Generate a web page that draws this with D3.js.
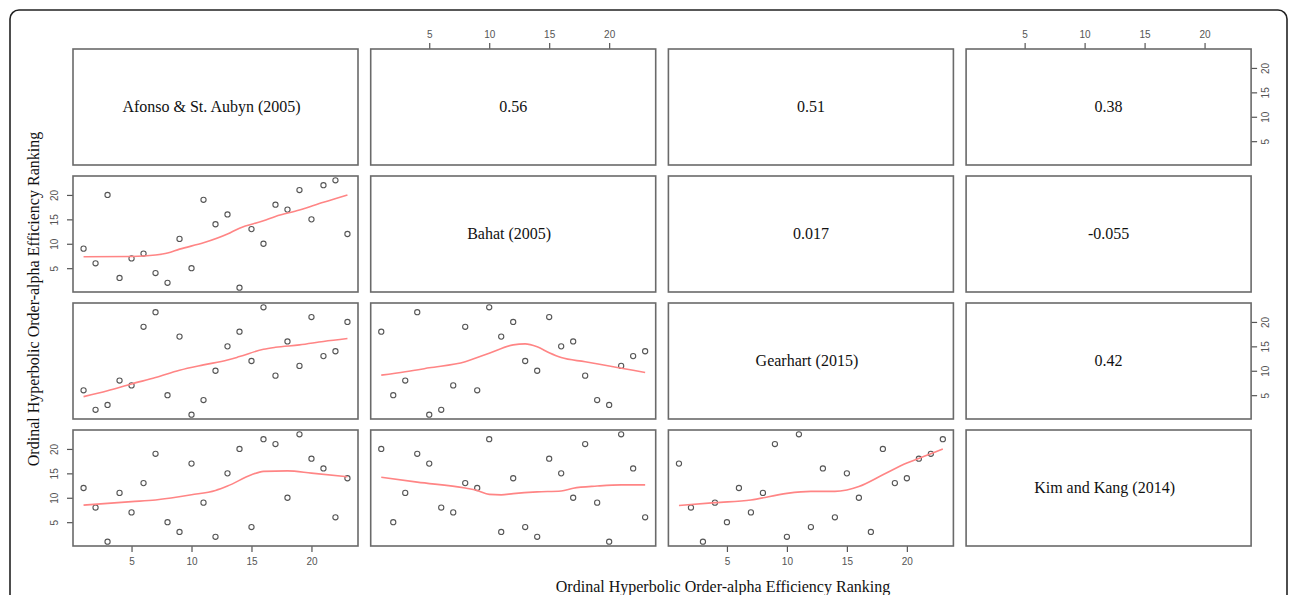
<!DOCTYPE html>
<html>
<head>
<meta charset="utf-8">
<script src="https://cdn.jsdelivr.net/npm/d3@7"></script>
<style>
  body { margin: 0; background: white; }
</style>
</head>
<body>
<div id="chart"></div>
<script>
// Rankings of the 23 observations under each method
const afonso   = [1, 2, 3, 4, 5, 6, 7, 8, 9, 10, 11, 12, 13, 14, 15, 16, 17, 18, 19, 20, 21, 22, 23];
const bahat    = [9, 6, 20, 3, 7, 8, 4, 2, 11, 5, 19, 14, 16, 1, 13, 10, 18, 17, 21, 15, 22, 23, 12];
const gearhart = [6, 2, 3, 8, 7, 19, 22, 5, 17, 1, 4, 10, 15, 18, 12, 23, 9, 16, 11, 21, 13, 14, 20];
const kim      = [12, 8, 1, 11, 7, 13, 19, 5, 3, 17, 9, 2, 15, 20, 4, 22, 21, 10, 23, 18, 16, 6, 14];

const names = ["Afonso & St. Aubyn (2005)", "Bahat (2005)", "Gearhart (2015)", "Kim and Kang (2014)"];
const columns = [afonso, bahat, gearhart, kim];

// correlations shown in the upper panels  [row, col, text]
const correlations = [
  [0, 1, "0.56"], [0, 2, "0.51"], [0, 3, "0.38"],
  [1, 2, "0.017"], [1, 3, "-0.055"],
  [2, 3, "0.42"]
];

// smoother lines  [x, y]
const smoothBahatAfonso = [[1, 7.35], [5, 7.4], [7, 7.7], [8, 8.1], [9, 8.9], [11, 10.2], [13, 12.0], [14, 13.2], [16, 14.7], [17, 15.6], [19, 16.9], [21, 18.5], [23, 20]];
const smoothGearhartAfonso = [[1, 4.7], [3, 5.9], [5, 7.3], [7, 8.6], [9, 10.1], [11, 11.2], [13, 12.2], [14, 12.9], [16, 14.4], [17, 14.8], [19, 15.3], [21, 16.0], [23, 16.6]];
const smoothGearhartBahat = [[1, 9.1], [3, 9.8], [5, 10.6], [8, 11.85], [10, 13.6], [12, 15.3], [13, 15.5], [14, 14.9], [15, 13.7], [16, 12.7], [18, 11.85], [20, 10.96], [22, 10.1], [23, 9.65]];
const smoothKimAfonso = [[1, 8.5], [5, 9.2], [7, 9.55], [10, 10.6], [12, 11.5], [13, 12.4], [15, 14.7], [16, 15.4], [18, 15.5], [20, 15.05], [23, 14.3]];
const smoothKimBahat = [[1, 14.2], [4, 13.2], [8, 12.0], [9, 11.5], [10, 10.7], [11, 10.6], [12, 10.85], [14, 11.2], [16, 11.4], [17, 11.95], [19, 12.4], [21, 12.65], [23, 12.65]];
const smoothKimGearhart = [[1, 8.4], [4, 9.0], [7, 9.55], [10, 10.9], [12, 11.3], [14, 11.3], [15, 11.6], [16, 12.3], [18, 14.7], [20, 17.1], [22, 19.0], [23, 20]];

const smoothers = [
  [1, 0, smoothBahatAfonso],
  [2, 0, smoothGearhartAfonso],
  [2, 1, smoothGearhartBahat],
  [3, 0, smoothKimAfonso],
  [3, 1, smoothKimBahat],
  [3, 2, smoothKimGearhart]
];

const tickValues = [5, 10, 15, 20];

const width = 1296;
const height = 595;

const panelW = 285;
const panelH = 116;
const left0 = 73;
const top0 = 49;
const stepX = 297.7;
const stepY = 127;

const svg = d3.select("#chart")
  .append("svg")
  .attr("width", width)
  .attr("height", height)
  .style("background-color", "white");

// outer frame
svg.append("rect")
  .attr("x", 10)
  .attr("y", 10)
  .attr("width", 1277)
  .attr("height", 620)
  .attr("rx", 9)
  .attr("fill", "none")
  .attr("stroke", "#222")
  .attr("stroke-width", 1.6);

const pad = 22 * 0.04;
const domain = [1 - pad, 23 + pad];

function panelX(j) { return left0 + j * stepX; }
function panelY(i) { return top0 + i * stepY; }

const lineColor = "#ff8585";
const boxColor = "#6a6a6a";

for (let i = 0; i < 4; i++) {
  for (let j = 0; j < 4; j++) {
    const px = panelX(j);
    const py = panelY(i);
    const x = d3.scaleLinear().domain(domain).range([0, panelW]);
    const y = d3.scaleLinear().domain(domain).range([panelH, 0]);

    const g = svg.append("g").attr("transform", `translate(${px},${py})`);

    // axes first so the box sits over the domain line
    if (i === 0 && (j === 1 || j === 3)) {
      g.append("g").attr("class", "axis").call(d3.axisTop(x).tickValues(tickValues).tickSize(6).tickPadding(5));
    }
    if (i === 3 && (j === 0 || j === 2)) {
      g.append("g").attr("class", "axis").attr("transform", `translate(0,${panelH})`)
        .call(d3.axisBottom(x).tickValues(tickValues).tickSize(6).tickPadding(6));
    }
    if (j === 0 && (i === 1 || i === 3)) {
      const ax = g.append("g").attr("class", "axis yaxis")
        .call(d3.axisLeft(y).tickValues(tickValues).tickSize(6).tickPadding(0));
      ax.selectAll(".tick text")
        .attr("x", null)
        .attr("text-anchor", "middle")
        .attr("dy", null)
        .attr("transform", "translate(-15,0) rotate(-90)");
    }
    if (j === 3 && (i === 0 || i === 2)) {
      const ax = g.append("g").attr("class", "axis yaxis").attr("transform", `translate(${panelW},0)`)
        .call(d3.axisRight(y).tickValues(tickValues).tickSize(6).tickPadding(0));
      ax.selectAll(".tick text")
        .attr("x", null)
        .attr("text-anchor", "middle")
        .attr("dy", null)
        .attr("transform", "translate(18,0) rotate(-90)");
    }

    // panel box
    g.append("rect")
      .attr("width", panelW)
      .attr("height", panelH)
      .attr("fill", "none")
      .attr("stroke", boxColor)
      .attr("stroke-width", 1.6);

    if (i === j) {
      g.append("text")
        .attr("x", panelW / 2 - 4)
        .attr("y", panelH / 2 + 5)
        .attr("text-anchor", "middle")
        .style("font-family", "Liberation Serif")
        .style("font-size", "16px")
        .attr("fill", "#111")
        .text(names[i]);
    } else if (i > j) {
      const pts = columns[j].map((v, k) => [v, columns[i][k]]);
      g.selectAll("circle")
        .data(pts)
        .enter().append("circle")
        .attr("cx", d => x(d[0]))
        .attr("cy", d => y(d[1]))
        .attr("r", 2.6)
        .attr("fill", "none")
        .attr("stroke", "#555")
        .attr("stroke-width", 1.1);
    }
  }
}

// smoother lines
smoothers.forEach(s => {
  const x = d3.scaleLinear().domain(domain).range([0, panelW]);
  const y = d3.scaleLinear().domain(domain).range([panelH, 0]);
  const line = d3.line()
    .x(d => x(d[0]))
    .y(d => y(d[1]))
    .curve(d3.curveMonotoneX);
  svg.append("path")
    .attr("transform", `translate(${panelX(s[1])},${panelY(s[0])})`)
    .attr("d", line(s[2]))
    .attr("fill", "none")
    .attr("stroke", lineColor)
    .attr("stroke-width", 1.6);
});

// correlation texts
correlations.forEach(c => {
  svg.append("text")
    .attr("x", panelX(c[1]) + panelW / 2)
    .attr("y", panelY(c[0]) + panelH / 2 + 5)
    .attr("text-anchor", "middle")
    .style("font-family", "Liberation Serif")
    .style("font-size", "16px")
    .attr("fill", "#111")
    .text(c[2]);
});

// axis styling
svg.selectAll(".axis .domain").remove();
svg.selectAll(".axis .tick line").attr("stroke", "#555").attr("stroke-width", 1.2);
svg.selectAll(".axis .tick text")
  .style("font-family", "Liberation Sans")
  .style("font-size", "10px")
  .attr("fill", "#555");

// axis titles
svg.append("text")
  .attr("x", 723)
  .attr("y", 592)
  .attr("text-anchor", "middle")
  .style("font-family", "Liberation Serif")
  .style("font-size", "16px")
  .attr("fill", "#111")
  .text("Ordinal Hyperbolic Order-alpha Efficiency Ranking");

svg.append("text")
  .attr("transform", "translate(39,299) rotate(-90)")
  .attr("text-anchor", "middle")
  .style("font-family", "Liberation Serif")
  .style("font-size", "16px")
  .attr("fill", "#111")
  .text("Ordinal Hyperbolic Order-alpha Efficiency Ranking");
</script>
</body>
</html>
